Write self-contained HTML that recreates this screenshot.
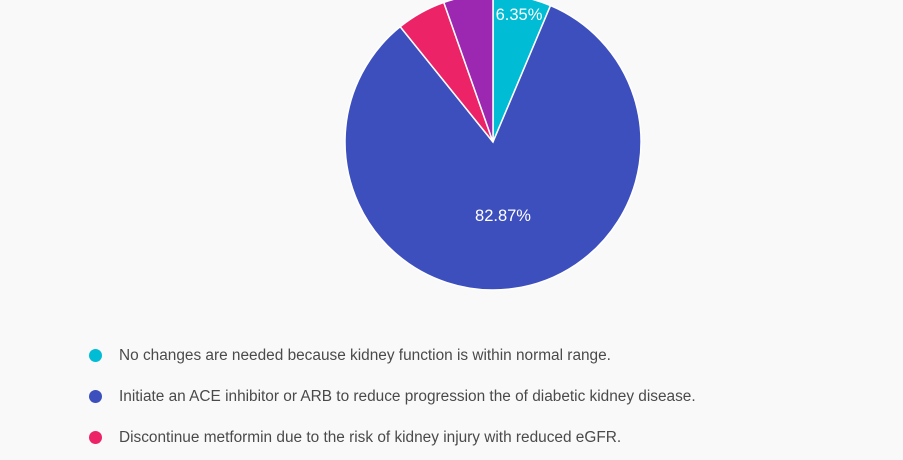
<!DOCTYPE html>
<html><head><style>
body{margin:0;width:903px;height:460px;background:#f9f9fa;overflow:hidden;font-family:"Liberation Sans",sans-serif;}
.l{position:absolute;left:119px;font-size:15.4px;color:#4a4a4a;white-space:nowrap;}
.d{position:absolute;left:89px;width:13px;height:13px;border-radius:50%;}
</style></head><body>
<svg width="903" height="460" style="position:absolute;left:0;top:0">
<g stroke="#fff" stroke-width="1.5">
<path d="M493,142 L493,-6 A148,148 0 0 1 550.5,5.6 Z" fill="#00bcd4"/>
<path d="M493,142 L550.5,5.6 A148,148 0 1 1 400.2,26.7 Z" fill="#3d4fbd"/>
<path d="M493,142 L400.2,26.7 A148,148 0 0 1 443.8,2.4 Z" fill="#ec2467"/>
<path d="M493,142 L443.8,2.4 A148,148 0 0 1 493,-6 Z" fill="#9c27b0"/>
</g>
<text x="503" y="221" fill="#fff" font-size="16.5" text-anchor="middle" font-family="Liberation Sans">82.87%</text>
<text x="519" y="20" fill="#fff" font-size="16.5" text-anchor="middle" font-family="Liberation Sans">6.35%</text>
</svg>
<div class="d" style="top:349px;background:#00bcd4"></div>
<div class="l" style="top:347px">No changes are needed because kidney function is within normal range.</div>
<div class="d" style="top:390px;background:#3d4fbd"></div>
<div class="l" style="top:388px">Initiate an ACE inhibitor or ARB to reduce progression the of diabetic kidney disease.</div>
<div class="d" style="top:431px;background:#ec2467"></div>
<div class="l" style="top:429px">Discontinue metformin due to the risk of kidney injury with reduced eGFR.</div>
</body></html>
